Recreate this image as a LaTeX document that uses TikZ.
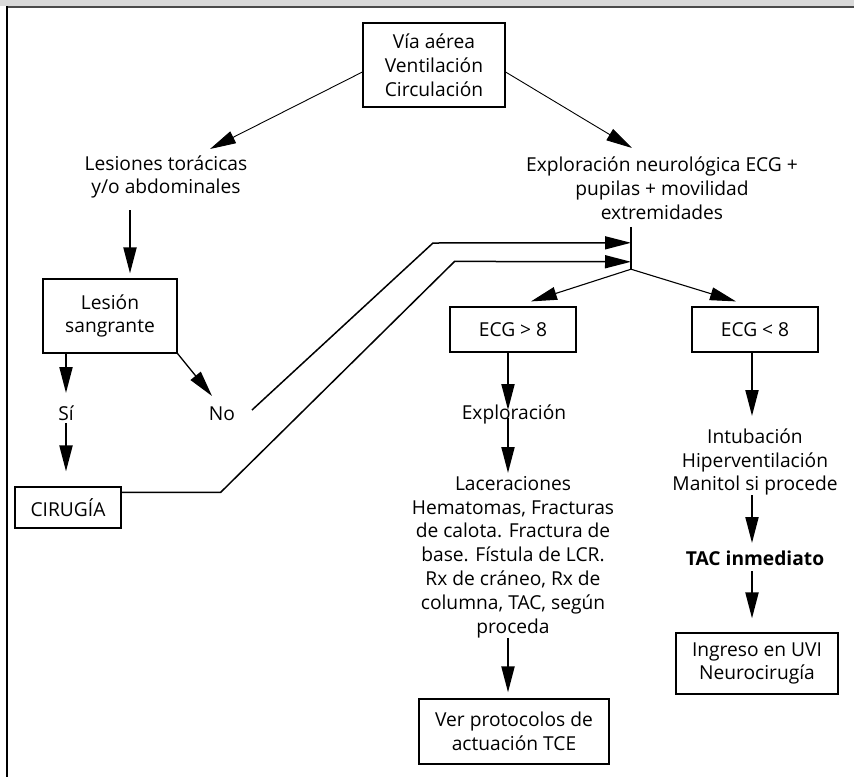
\documentclass[tikz,border=0pt]{standalone}
\usepackage{fontspec}
\setmainfont{Open Sans}
\usetikzlibrary{arrows.meta,calc}
\definecolor{bandgray}{HTML}{D9D9D9}
\definecolor{edgegray}{HTML}{4A4A4A}
\begin{document}
\begin{tikzpicture}[x=1pt,y=-1pt,
  box/.style={draw,line width=1.2pt,inner sep=0pt,align=center},
  txt/.style={inner sep=0pt,align=center},
  tip/.style={-{Triangle[length=26pt,width=13pt]}},
  arr/.style={line width=2pt,tip},
  thinarr/.style={line width=0.9pt,tip},
  conn/.style={line width=1.5pt},
  font=\fontsize{19.2}{23.8}\selectfont]
\useasboundingbox (0,0) rectangle (854,777);
% frame
\fill[bandgray] (0,0) rectangle (854,6);
\draw[edgegray,line width=2pt] (6,6.5) -- (854,6.5);
\draw[black,line width=2pt] (6.5,6) -- (6.5,777);

% nodes
\node[box,minimum width=142,minimum height=84] (top) at (434,65) {Vía aérea\\Ventilación\\Circulación};
\node[txt] (les) at (166,177) {Lesiones torácicas\\y/o abdominales};
\node[txt] (expn) at (662,188) {Exploración neurológica ECG +\\pupilas + movilidad\\extremidades};
\node[box,minimum width=134,minimum height=74] (lesion) at (110,316) {Lesión\\sangrante};
\node[txt] (si) at (66,413) {Sí};
\node[txt] (no) at (222,414) {No};
\node[box,minimum width=106,minimum height=41] (cir) at (68,507.5) {CIRUGÍA};
\node[inner sep=0pt,minimum height=42,minimum width=0pt] (bar) at (631,248) {};
\node[box,minimum width=126,minimum height=45] (ecg1) at (513,329.5) {ECG > 8};
\node[box,minimum width=126,minimum height=45] (ecg2) at (755,329.5) {ECG < 8};
\node[txt] (expl) at (514,414) {Exploración};
\node[txt] (lac) at (513,557) {Laceraciones\\Hematomas, Fracturas\\de calota. Fractura de\\base. Fístula de LCR.\\Rx de cráneo, Rx de\\columna, TAC, según\\proceda};
\node[box,minimum width=190,minimum height=65] (ver) at (514,731.5) {Ver protocolos de\\actuación TCE};
\node[txt] (intu) at (755,462) {Intubación\\Hiperventilación\\Manitol si procede};
\node[txt,font=\fontsize{19.2}{23.8}\selectfont\bfseries] (tac) at (755,558) {TAC inmediato};
\node[box,minimum width=162,minimum height=61] (ing) at (757,663.5) {Ingreso en UVI\\Neurocirugía};

% connectors
\draw[thinarr] ($(top.west)+(0,7)$) -- ($(les)+(44,-28)$);
\draw[thinarr] ($(top.east)+(0,7)$) -- ($(expn)+(-30,-40)$);
\draw[arr] ($(les)+(-36,33)$) -- ($(lesion.north)+(20,-5)$);
\draw[arr] (lesion.south -| si) -- ($(si)+(0,-20)$);
\draw[arr] ($(si)+(0,10)$) -- ($(cir.north -| si)+(0,-15)$);
\draw[conn,line width=1.3pt,tip] (lesion.south east) -- ($(no)+(-10,-18)$);
\draw[conn,tip] ($(no)+(30,-4)$) -- ++(181,-167) -- ($(bar.north)+(0,16)$);
\draw[conn,tip] ($(cir.north east)+(0,6)$) -- ++(99,0) -- ++(234,-231) -- ($(bar.north)+(0,35)$);
\draw[line width=1.8pt] (bar.north) -- (bar.south);
\draw[conn,line width=1.1pt,tip] (bar.south) -- ($(ecg1.north)+(18,-5)$);
\draw[conn,line width=1.1pt,tip] (bar.south) -- ($(ecg2.north)+(-19,-5)$);
\draw[arr] ($(ecg1.south)+(-5,0)$) -- ($(expl)+(-6,-4)$);
\draw[arr] ($(expl)+(-6,4)$) -- ($(lac)+(-5,-84)$);
\draw[arr] ($(lac)+(-5,81)$) -- ($(ver.north)+(-6,-6)$);
\draw[arr] ($(ecg2.south)+(-3,0)$) -- ($(intu)+(-3,-46)$);
\draw[arr] ($(intu)+(-3,33)$) -- ($(tac)+(-3,-15)$);
\draw[arr] ($(tac)+(-3,13)$) -- ($(ing.north)+(-5,-14)$);
\end{tikzpicture}
\end{document}
